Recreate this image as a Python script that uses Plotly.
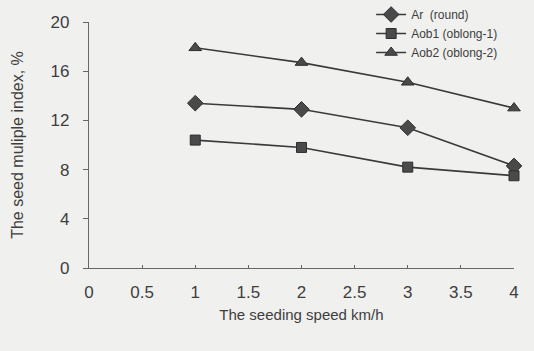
import plotly.graph_objects as go

speed = [1, 2, 3, 4]
ar_round = [13.4, 12.9, 11.4, 8.3]
aob1_oblong1 = [10.4, 9.8, 8.2, 7.5]
aob2_oblong2 = [17.9, 16.7, 15.1, 13.0]

x_ticks = [0, 0.5, 1, 1.5, 2, 2.5, 3, 3.5, 4]
x_tick_text = ["0", "0.5", "1", "1.5", "2", "2.5", "3", "3.5", "4"]
y_ticks = [0, 4, 8, 12, 16, 20]

bg = "#f0f0ee"
ink = "#3a3a3a"
txt = "#3e3e3e"

fig = go.Figure()
series = [
    ("Ar  (round)", ar_round, "diamond", 12),
    ("Aob1 (oblong-1)", aob1_oblong1, "square", 10),
    ("Aob2 (oblong-2)", aob2_oblong2, "triangle-up", 11),
]
for name, vals, sym, sz in series:
    fig.add_trace(go.Scatter(
        x=speed, y=vals, name=name, mode="lines+markers",
        line=dict(color=ink, width=1.6),
        marker=dict(symbol=sym, size=sz, color="#4a4a4a", line=dict(color="#2e2e2e", width=1)),
        cliponaxis=False,
    ))

fig.update_layout(
    width=534, height=351,
    margin=dict(l=89, r=20, t=22, b=83, autoexpand=False),
    paper_bgcolor=bg, plot_bgcolor=bg,
    font=dict(family="Liberation Sans, Arial, sans-serif", color=txt),
    showlegend=True,
    legend=dict(xref="container", yref="container", x=0.695, y=1.0,
                xanchor="left", yanchor="top",
                bgcolor="rgba(0,0,0,0)", font=dict(size=12, color=txt),
                tracegroupgap=0, itemsizing="trace"),
    xaxis=dict(
        range=[0, 4], tickmode="array", tickvals=x_ticks, ticktext=x_tick_text,
        showgrid=False, zeroline=False, showline=True, linecolor="#666666", linewidth=1.2,
        ticks="inside", ticklen=3, tickcolor="#666666", automargin=False,
        tickfont=dict(size=17, color=txt), ticklabelstandoff=8,
        title=dict(text="The seeding speed km/h", font=dict(size=15, color=txt), standoff=8),
    ),
    yaxis=dict(
        range=[0, 20], tickmode="array", tickvals=y_ticks,
        showgrid=False, zeroline=False, showline=True, linecolor="#666666", linewidth=1.2,
        ticks="outside", ticklen=5, tickcolor="#666666", automargin=False,
        tickfont=dict(size=17, color=txt), ticklabelstandoff=10,
        title=dict(text="The seed muliple index, %", font=dict(size=16, color=txt), standoff=22),
    ),
)

fig.write_html(
    "out.html",
    config={"displayModeBar": False},
    post_script="document.body.style.margin='0';document.body.style.background='#f0f0ee';",
)
